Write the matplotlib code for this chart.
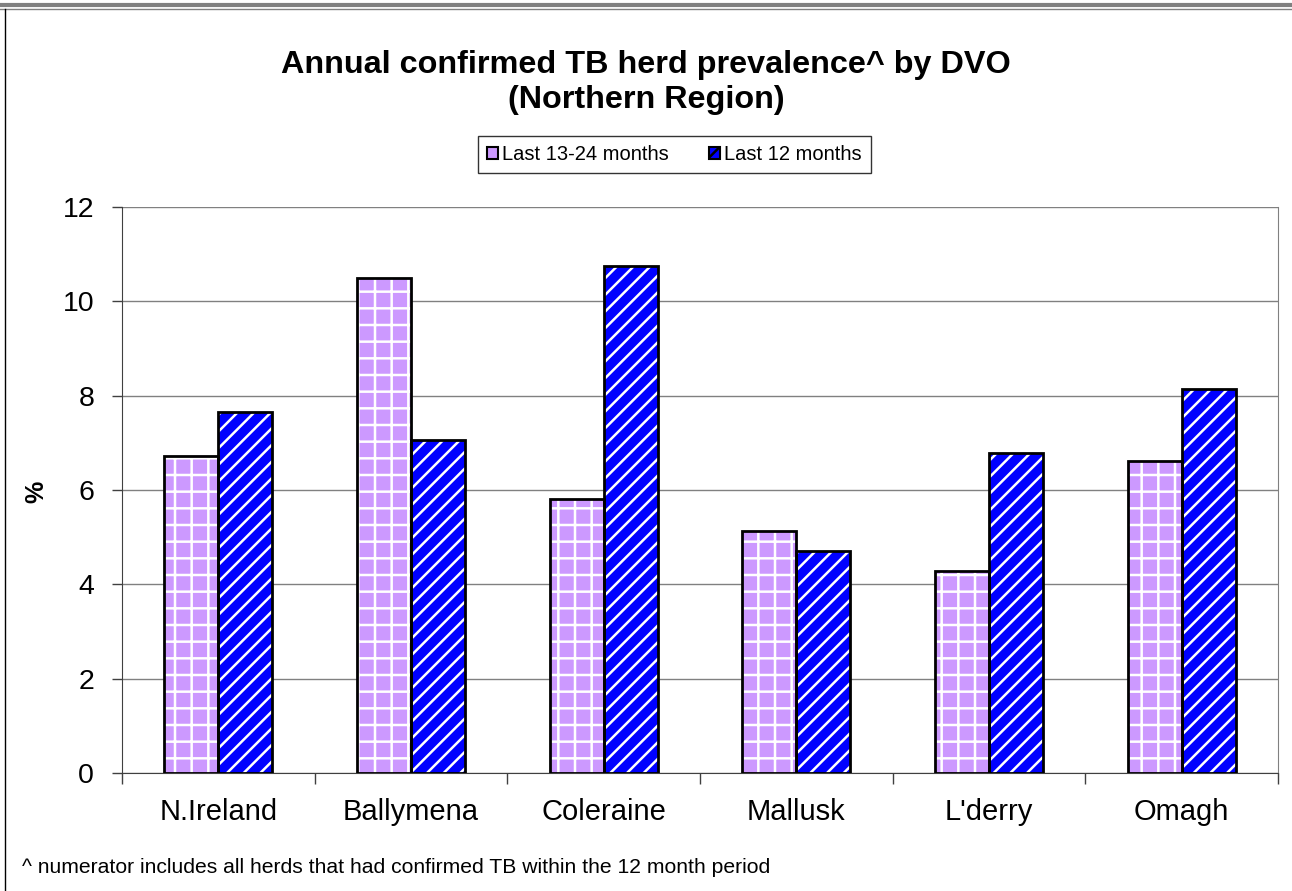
import numpy as np
import matplotlib
matplotlib.use("Agg")
import matplotlib.pyplot as plt
from matplotlib.lines import Line2D
from matplotlib.patches import Patch

plt.rcParams["font.family"] = ["Liberation Sans", "DejaVu Sans"]
plt.rcParams["hatch.linewidth"] = 1.8

# datos
dvo = ["N.Ireland", "Ballymena", "Coleraine", "Mallusk", "L'derry", "Omagh"]
prev_13_24 = [6.72, 10.49, 5.81, 5.13, 4.28, 6.61]
prev_12 = [7.65, 7.06, 10.75, 4.71, 6.78, 8.14]
yticks = [0, 2, 4, 6, 8, 10, 12]

purple = "#CC99FF"
blue = "#0000FF"

fig = plt.figure(figsize=(12.92, 8.91), dpi=100)
ax = fig.add_axes([0.0944, 0.1325, 0.8948, 0.6352])

x = np.arange(len(dvo))
w = 0.28

# relleno con trama blanca, luego borde negro
ax.bar(x - w / 2, prev_13_24, w, color=purple, hatch="+", edgecolor="white", linewidth=0, zorder=3)
ax.bar(x + w / 2, prev_12, w, color=blue, hatch="//", edgecolor="white", linewidth=0, zorder=3)
ax.bar(x - w / 2, prev_13_24, w, fill=False, edgecolor="black", linewidth=2, zorder=4)
ax.bar(x + w / 2, prev_12, w, fill=False, edgecolor="black", linewidth=2, zorder=4)

ax.set_xlim(-0.5, len(dvo) - 0.5)
ax.set_ylim(0, 12)
ax.set_yticks(yticks)
ax.set_xticks(x)
ax.set_xticklabels(dvo, fontsize=21)
ax.set_xticks(np.arange(-0.5, len(dvo)), minor=True)
ax.tick_params(axis="x", which="major", length=0, pad=18)
ax.tick_params(axis="x", which="minor", length=8, width=1, color="#404040", direction="out")
ax.tick_params(axis="y", labelsize=20.5, length=7, width=1, pad=13, color="#404040")

ax.grid(axis="y", color="#808080", linewidth=1, zorder=0)
ax.set_axisbelow(True)
ax.spines["top"].set_visible(False)
ax.spines["right"].set_color("#808080")
ax.spines["bottom"].set_color("#404040")
ax.spines["left"].set_color("#404040")

fig.text(0.028, 0.448, "%", fontsize=18, fontweight="bold", rotation=90, ha="center", va="center")

fig.text(0.5, 0.907, "Annual confirmed TB herd prevalence^ by DVO\n(Northern Region)",
         fontsize=23.3, fontweight="bold", ha="center", va="center", linespacing=1.22)

handles = [Patch(facecolor=purple, edgecolor="black", linewidth=1.5),
           Patch(facecolor=blue, edgecolor="black", linewidth=1.5, hatch="//")]
leg = fig.legend(handles, ["Last 13-24 months", "Last 12 months"], loc="center",
                 bbox_to_anchor=(0.522, 0.8266), ncol=2, fontsize=14.5, frameon=True,
                 fancybox=False, edgecolor="black", handlelength=0.55, handleheight=0.55,
                 handletextpad=0.2, columnspacing=2.0, borderpad=0.45)
leg.get_frame().set_linewidth(1)

fig.text(0.017, 1 - 873 / 891, "^ numerator includes all herds that had confirmed TB within the 12 month period",
         fontsize=15.2, ha="left", va="baseline")

# marco de la hoja
fig.add_artist(Line2D([0, 1], [1 - 5 / 891, 1 - 5 / 891], color="#808080", linewidth=3, transform=fig.transFigure))
fig.add_artist(Line2D([0, 1], [1 - 8.5 / 891, 1 - 8.5 / 891], color="#808080", linewidth=1, transform=fig.transFigure))
fig.add_artist(Line2D([5 / 1292, 5 / 1292], [0, 1 - 8.5 / 891], color="black", linewidth=1, transform=fig.transFigure))

fig.savefig("out.png", dpi=100)
